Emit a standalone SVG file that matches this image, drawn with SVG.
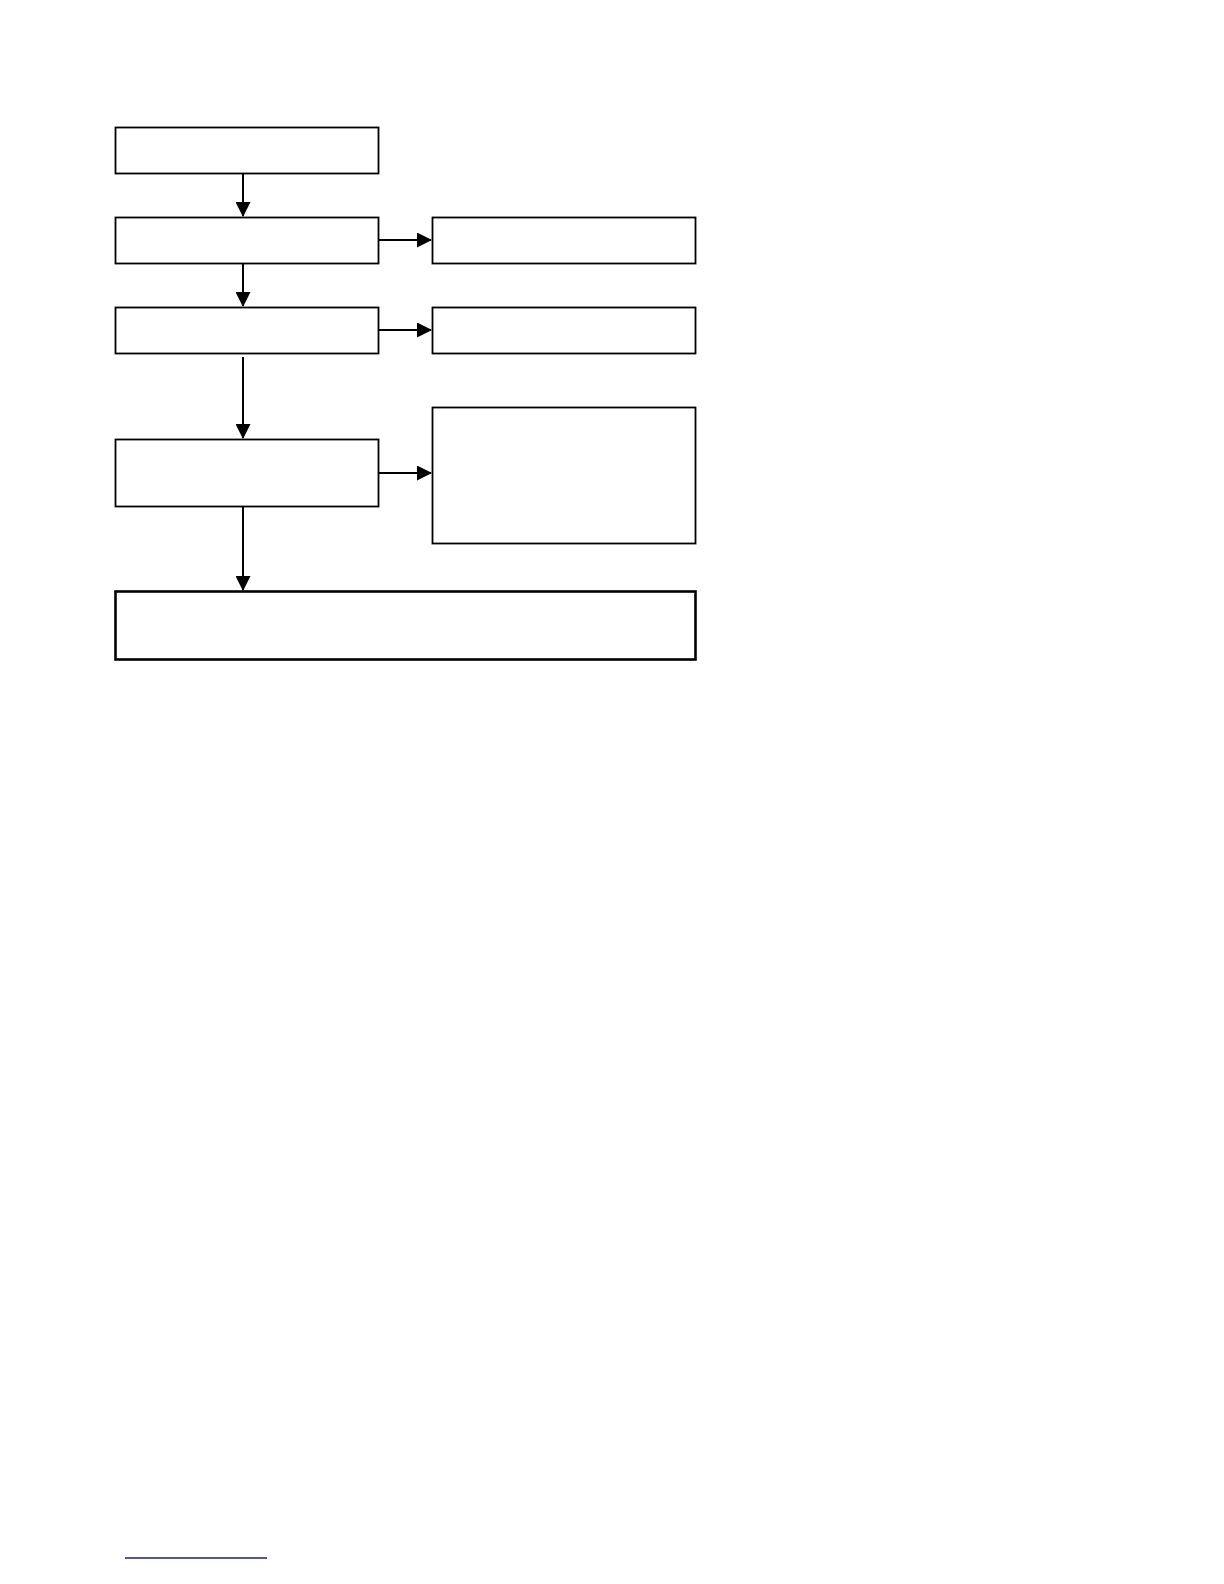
<svg xmlns="http://www.w3.org/2000/svg" width="1224" height="1584" viewBox="0 0 1224 1584">
<style>
.box{fill:#fff;stroke:#000;stroke-width:1.8}
.thick{stroke-width:2.6}
.conn{stroke:#000;stroke-width:2;fill:none;marker-end:url(#ah)}
</style>
<defs>
<marker id="ah" markerWidth="7.5" markerHeight="7.5" refX="7" refY="3.75" orient="auto" markerUnits="strokeWidth">
<path d="M0,0 L7.5,3.75 L0,7.5 Z" fill="#000"/>
</marker>
</defs>
<rect width="1224" height="1584" fill="#fff"/>
<g id="connectors">
<line class="conn" x1="243" y1="174" x2="243" y2="216"/>
<line class="conn" x1="243" y1="264" x2="243" y2="306"/>
<line class="conn" x1="243" y1="357" x2="243" y2="438"/>
<line class="conn" x1="243" y1="507" x2="243" y2="590"/>
<line class="conn" x1="379" y1="240" x2="431" y2="240"/>
<line class="conn" x1="379" y1="330" x2="431" y2="330"/>
<line class="conn" x1="379" y1="473" x2="431" y2="473"/>
</g>
<g id="n1"><rect class="box" x="115.5" y="127.5" width="263" height="46"/></g>
<g id="n2"><rect class="box" x="115.5" y="217.5" width="263" height="46"/></g>
<g id="n3"><rect class="box" x="115.5" y="307.5" width="263" height="46"/></g>
<g id="n4"><rect class="box" x="115.5" y="439.5" width="263" height="67"/></g>
<g id="n5"><rect class="box" x="432.5" y="217.5" width="263" height="46"/></g>
<g id="n6"><rect class="box" x="432.5" y="307.5" width="263" height="46"/></g>
<g id="n7"><rect class="box" x="432.5" y="407.5" width="263" height="136"/></g>
<g id="n8"><rect class="box thick" x="115.5" y="591.5" width="580" height="68"/></g>
<line x1="125" y1="1558" x2="267" y2="1558" stroke="#1a1a8c" stroke-width="1.5"/>
</svg>
